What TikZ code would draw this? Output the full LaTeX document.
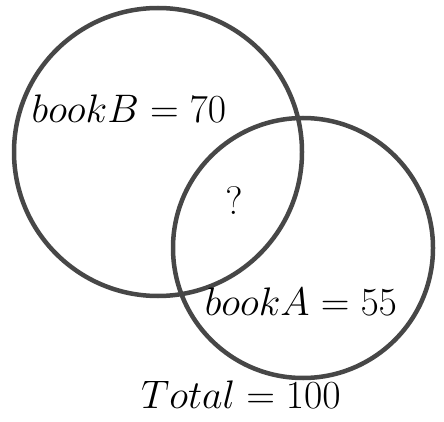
\documentclass[tikz,border=0pt]{standalone}
\usepackage{amsmath}
\newcommand{\biglbl}[1]{\scalebox{1.6}{\Huge$#1$}}
\begin{document}
\begin{tikzpicture}[x=1pt,y=-1pt,
  ring/.style={draw=black!72, line width=4.5pt},
  lbl/.style={inner sep=0pt}]
\useasboundingbox (0,0) rectangle (444,422);
\node[ring, circle, minimum size=288pt, inner sep=0pt] (B) at (158,152) {};
\node[ring, circle, minimum size=260pt, inner sep=0pt] (A) at (303,248) {};
\node[lbl] (lb) at (129,109) {\biglbl{bookB = 70}};
\node[lbl] (lq) at (234,201) {\biglbl{?}};
\node[lbl] (la) at (301,302) {\biglbl{bookA = 55}};
\node[lbl] (lt) at (241,395) {\biglbl{Total = 100}};
\end{tikzpicture}
\end{document}
